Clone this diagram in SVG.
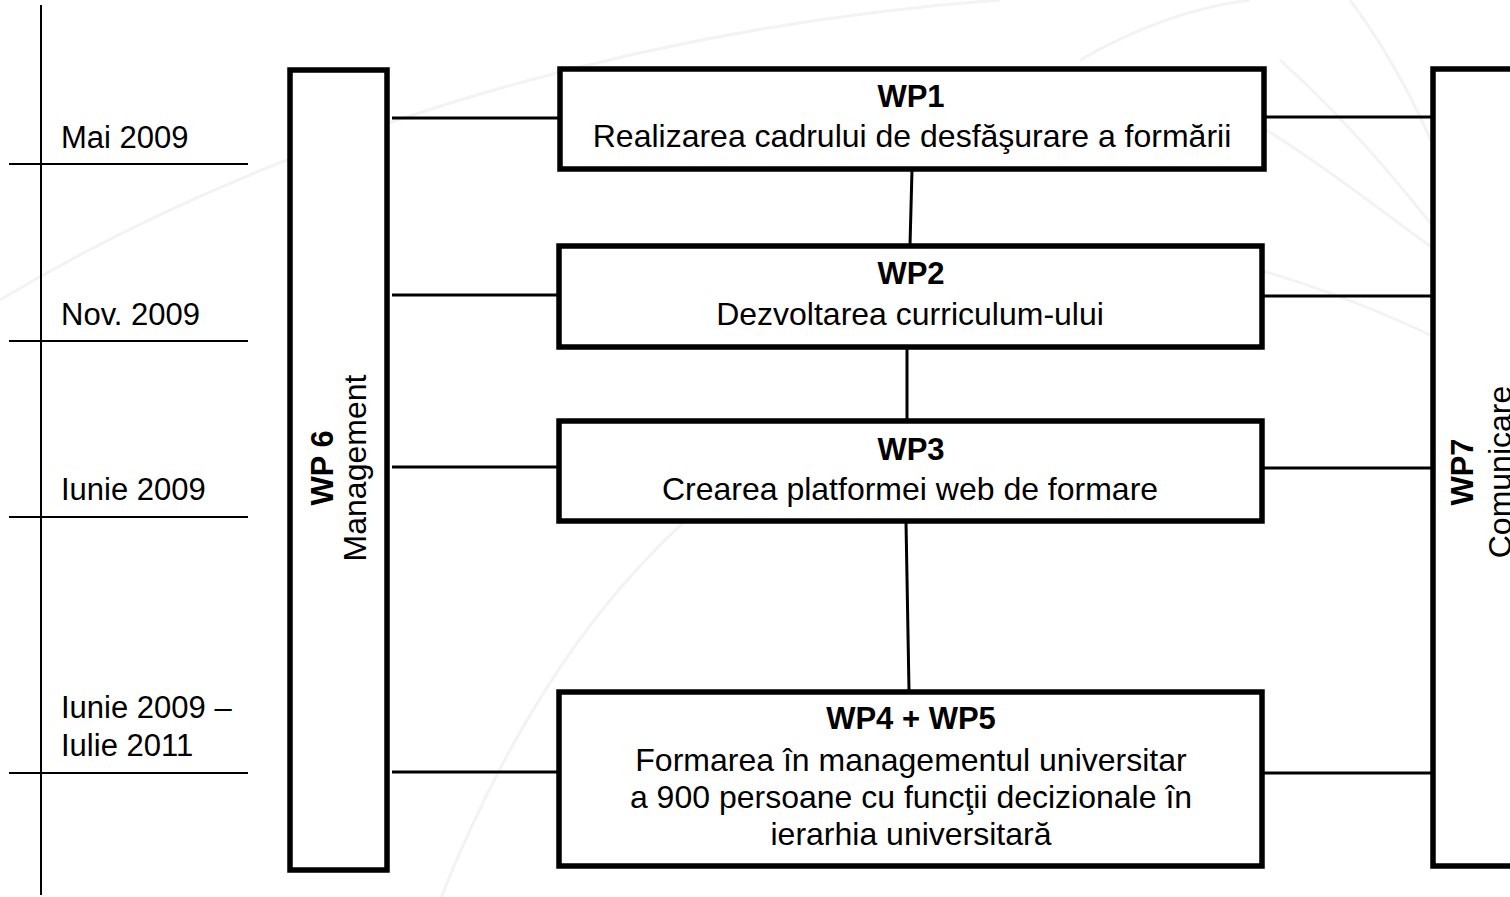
<svg xmlns="http://www.w3.org/2000/svg" width="1510" height="897" viewBox="0 0 1510 897">
<style>
.box{fill:#ffffff;stroke:#000;stroke-width:5.5}
.con{stroke:#000;stroke-width:3;fill:none}
.tl{stroke:#000;stroke-width:2;fill:none}
.bg{stroke:#f3f3f3;stroke-width:3;fill:none}
text{font-family:"Liberation Sans",Arial,sans-serif;fill:#000}
.t{font-size:31px;font-weight:bold;text-anchor:middle}
.s{font-size:32px;text-anchor:middle}
.d{font-size:31px}
</style>
<rect width="1510" height="897" fill="#ffffff"/>
<g id="background">
<path class="bg" d="M0,300 C250,150 600,30 1000,0"/>
<path class="bg" d="M1280,60 C1380,150 1460,260 1510,330"/>
<path class="bg" d="M1250,120 C1350,180 1440,260 1510,300"/>
<path class="bg" d="M1260,270 C1360,300 1450,340 1510,380"/>
<path class="bg" d="M1350,0 C1440,120 1480,260 1510,420"/>
<path class="bg" d="M440,900 C520,700 620,560 760,460"/>
<path class="bg" d="M1080,60 C1150,20 1210,5 1250,0"/>
</g>
<g id="timeline">
<line class="tl" x1="41" y1="5" x2="41" y2="895"/>
<line class="tl" x1="9" y1="164" x2="248" y2="164"/>
<line class="tl" x1="9" y1="341" x2="248" y2="341"/>
<line class="tl" x1="9" y1="517" x2="248" y2="517"/>
<line class="tl" x1="9" y1="773" x2="248" y2="773"/>
<text class="d" x="61" y="148">Mai 2009</text>
<text class="d" x="61" y="325">Nov. 2009</text>
<text class="d" x="61" y="500">Iunie 2009</text>
<text class="d" x="61" y="718">Iunie 2009 –</text>
<text class="d" x="61" y="756">Iulie 2011</text>
</g>
<g id="connectors">
<line class="con" x1="392" y1="118" x2="558" y2="118"/>
<line class="con" x1="392" y1="295" x2="558" y2="295"/>
<line class="con" x1="392" y1="467" x2="558" y2="467"/>
<line class="con" x1="392" y1="772" x2="558" y2="772"/>
<line class="con" x1="1264" y1="117" x2="1432" y2="117"/>
<line class="con" x1="1264" y1="296" x2="1432" y2="296"/>
<line class="con" x1="1264" y1="468" x2="1432" y2="468"/>
<line class="con" x1="1264" y1="773" x2="1432" y2="773"/>
<line class="con" x1="912" y1="170" x2="910" y2="245"/>
<line class="con" x1="907" y1="348" x2="907" y2="420"/>
<line class="con" x1="906" y1="522" x2="909" y2="690"/>
</g>
<g id="wp6">
<rect class="box" x="290" y="70" width="97" height="800"/>
<text class="t" transform="translate(333,468) rotate(-90)">WP 6</text>
<text class="s" transform="translate(366,468) rotate(-90)">Management</text>
</g>
<g id="wp7">
<rect class="box" x="1433" y="69" width="120" height="797"/>
<text class="t" transform="translate(1473,472) rotate(-90)">WP7</text>
<text class="s" transform="translate(1511,472) rotate(-90)">Comunicare</text>
</g>
<g id="wp1">
<rect class="box" x="560" y="69" width="704" height="100"/>
<text class="t" x="911" y="107">WP1</text>
<text class="s" x="912" y="147">Realizarea cadrului de desfăşurare a formării</text>
</g>
<g id="wp2">
<rect class="box" x="559" y="246" width="703" height="101"/>
<text class="t" x="911" y="284">WP2</text>
<text class="s" x="910" y="325">Dezvoltarea curriculum-ului</text>
</g>
<g id="wp3">
<rect class="box" x="559" y="421" width="703" height="100"/>
<text class="t" x="911" y="460">WP3</text>
<text class="s" x="910" y="500">Crearea platformei web de formare</text>
</g>
<g id="wp45">
<rect class="box" x="559" y="692" width="703" height="174"/>
<text class="t" x="911" y="729">WP4 + WP5</text>
<text class="s" x="911" y="771">Formarea în managementul universitar</text>
<text class="s" x="911" y="808">a 900 persoane cu funcţii decizionale în</text>
<text class="s" x="911" y="845">ierarhia universitară</text>
</g>
</svg>
